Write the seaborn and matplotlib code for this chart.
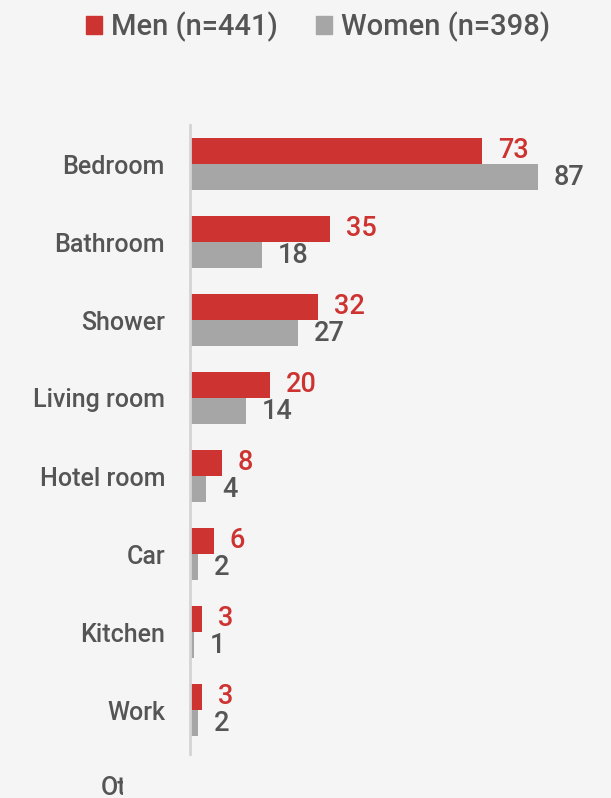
import matplotlib
matplotlib.use("Agg")
import matplotlib.pyplot as plt
import seaborn as sns
import pandas as pd
from matplotlib.patches import Patch
from matplotlib.transforms import Bbox

# Данные
places = ["Bedroom", "Bathroom", "Shower", "Living room", "Hotel room", "Car", "Kitchen", "Work"]
men = [73, 35, 32, 20, 8, 6, 3, 3]
women = [87, 18, 27, 14, 4, 2, 1, 2]
groups = ["Men (n=441)", "Women (n=398)"]

RED = "#cd3431"
GRAY = "#a6a6a6"
TXT = "#555555"
BG = "#f5f5f5"

df = pd.DataFrame({
    "place": places * 2,
    "pct": men + women,
    "sex": [groups[0]] * len(places) + [groups[1]] * len(places),
})

sns.set_style("white")
plt.rcParams["font.family"] = ["Roboto", "DejaVu Sans"]
plt.rcParams["font.weight"] = "medium"

fig = plt.figure(figsize=(6.11, 7.98), dpi=100, facecolor=BG)
ax = fig.add_axes([190 / 611, 0, 400 / 611, (798 - 125) / 798])
ax.set_facecolor(BG)

sns.barplot(data=df, y="place", x="pct", hue="sex", orient="h",
            palette=[RED, GRAY], saturation=1, width=0.667, linewidth=0,
            ax=ax, legend=False)

ax.set_xlim(0, 100)
ax.set_ylim((798 - 164) / 78, -0.5)

# Подписи значений
for cont, col in zip(ax.containers, [RED, TXT]):
    ax.bar_label(cont, padding=11.5, color=col, fontsize=19.5)

ax.set_xlabel("")
ax.set_ylabel("")
ax.set_xticks([])
ax.tick_params(axis="y", length=0, pad=18, labelsize=18, labelcolor=TXT)
for s in ["top", "right", "bottom"]:
    ax.spines[s].set_visible(False)
ax.spines["left"].set_color("#d4d4d4")
ax.spines["left"].set_linewidth(2)
ax.spines["left"].set_bounds(-0.5, 7.56)

# Обрезанная подпись "Other"
t = fig.text(101 / 611, 10 / 798, "Other", ha="left", va="center", fontsize=18,
             color=TXT, clip_on=True)
t.set_clip_box(Bbox([[0, 0], [123, 798]]))

handles = [Patch(color=RED), Patch(color=GRAY)]
fig.legend(handles, groups, loc="upper center", bbox_to_anchor=(318 / 611, 1.018),
           ncol=2, frameon=False, fontsize=21, labelcolor=TXT,
           handlelength=0.55, handleheight=0.55, handletextpad=0.3,
           columnspacing=1.3)

fig.savefig("out.png", dpi=100, facecolor=BG)
